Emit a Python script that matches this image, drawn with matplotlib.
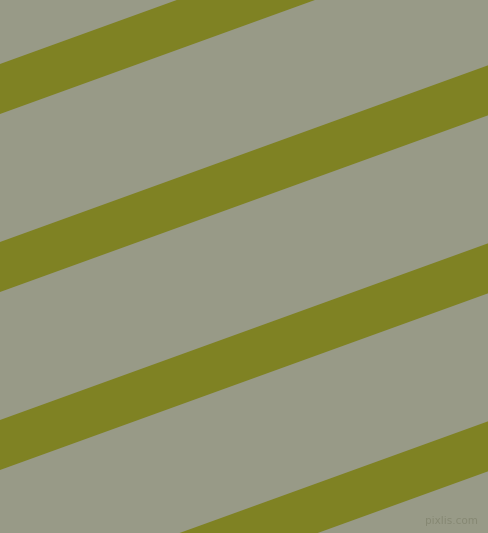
import numpy as np
import matplotlib
matplotlib.use("Agg")
import matplotlib.pyplot as plt

stripe_tops = [64, 242, 420, 598]   # upper edge of each band at x = 0
stripe_height = 50                  # vertical thickness of a band
slope = 0.362                       # rise per pixel going right (bands go up)

bg_color = "#989a87"
stripe_color = "#7f8223"

W, H = 488, 533

fig = plt.figure(figsize=(W / 100, H / 100), dpi=100)
ax = fig.add_axes([0, 0, 1, 1])
ax.set_xlim(0, W)
ax.set_ylim(H, 0)
ax.set_facecolor(bg_color)
ax.axis("off")
fig.patch.set_facecolor(bg_color)

x = np.array([0, W])
for top in stripe_tops:
    upper = top - slope * x
    lower = upper + stripe_height
    ax.fill_between(x, upper, lower, color=stripe_color, linewidth=0)

ax.text(478, 526, "pixlis.com", fontsize=7.5, color="#868873",
        ha="right", va="bottom")

fig.savefig("out.png", dpi=100, facecolor=bg_color)
